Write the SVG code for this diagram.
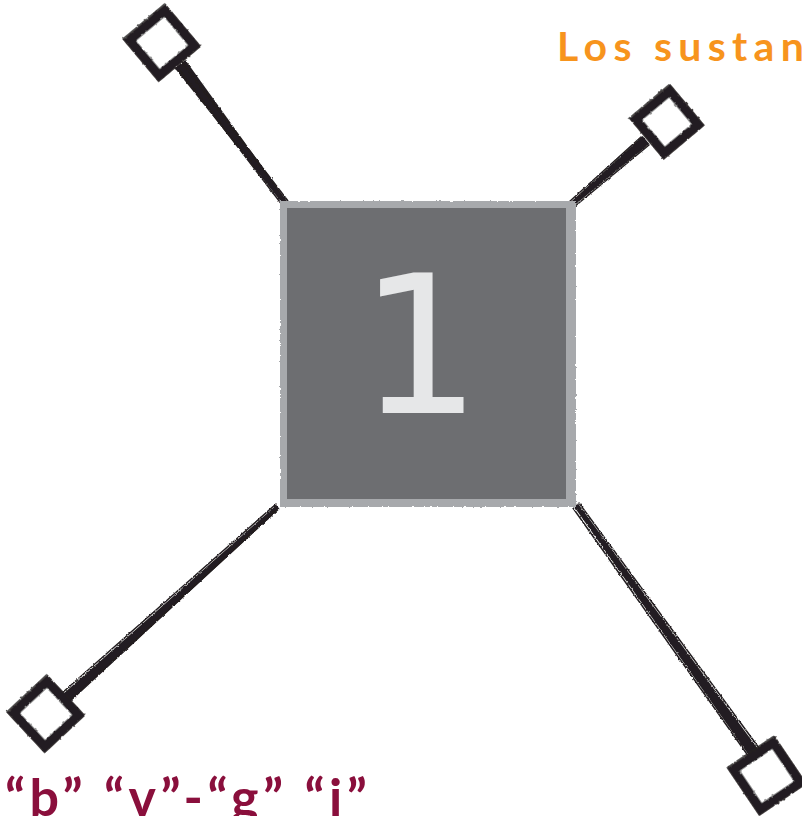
<svg xmlns="http://www.w3.org/2000/svg" width="802" height="816" viewBox="0 0 802 816">
<style>
.ink{fill:#231f20;stroke:none}
.hair{fill:none;stroke:#231f20;stroke-width:1.5;stroke-linecap:round}
.pin{fill:none;stroke:#231f20;stroke-width:9;stroke-linejoin:miter}
.pinhair{fill:none;stroke:#231f20;stroke-width:1.5}
.title{font-family:Lato,"Open Sans",sans-serif;font-weight:700;font-size:41px;fill:#f7941d;letter-spacing:6.3px}
.label{font-family:Lato,"Open Sans",sans-serif;font-weight:700;font-size:52px;fill:#8a0f3c;letter-spacing:4.5px}
.num{font-family:"DejaVu Sans",sans-serif;font-size:192px;fill:#e6e7e8}
</style>
<defs>
<filter id="rough" x="-10%" y="-10%" width="120%" height="120%">
<feTurbulence type="fractalNoise" baseFrequency="0.35" numOctaves="2" seed="3" result="n"/>
<feDisplacementMap in="SourceGraphic" in2="n" scale="2.5" xChannelSelector="R" yChannelSelector="G"/>
</filter>
</defs>
<rect width="802" height="816" fill="#ffffff"/>
<g id="connectors" filter="url(#rough)">
<polygon class="ink" points="174.6,68.0 284.0,205.5 288.0,202.5 185.4,60.0"/>
<path class="hair" d="M179,70 L283,206 M181,61 L288,201"/>
<polygon class="ink" points="642.6,136.0 569.4,203.2 572.6,206.8 649.4,144.0"/>
<path class="hair" d="M641,137 L569,202 M649,145 L574,207"/>
<polygon class="ink" points="69.3,701.7 279.6,508.9 276.4,505.1 62.7,694.3"/>
<path class="hair" d="M68,703 L277,510 M62,693 L276,504"/>
<polygon class="ink" points="758.5,749.8 578.0,503.5 574.0,506.5 749.5,756.2"/>
<path class="hair" d="M759,748 L579,503 M749,757 L573,508"/>
</g>
<g id="pin-tl" filter="url(#rough)" transform="translate(162,43) rotate(50)">
<rect class="pin" x="-23" y="-23" width="46" height="46"/>
<rect class="pinhair" x="-28" y="-27" width="55" height="54"/>
</g>
<g id="pin-tr" filter="url(#rough)" transform="translate(667,122) rotate(50)">
<rect class="pin" x="-22" y="-22" width="44" height="44"/>
<rect class="pinhair" x="-27" y="-26" width="53" height="52"/>
</g>
<g id="pin-bl" filter="url(#rough)" transform="translate(46,714) rotate(47)">
<rect class="pin" x="-23" y="-23" width="46" height="46"/>
<rect class="pinhair" x="-28" y="-27" width="55" height="54"/>
</g>
<g id="pin-br" filter="url(#rough)" transform="translate(767,776) rotate(56)">
<rect class="pin" x="-24" y="-24" width="48" height="48"/>
<rect class="pinhair" x="-29" y="-28" width="57" height="56"/>
</g>
<g id="center">
<rect x="280" y="201" width="296" height="306" fill="#a7a9ac" filter="url(#rough)"/>
<rect x="287" y="208" width="279" height="291" fill="#6d6e71"/>
<text class="num" x="420" y="413" text-anchor="middle">1</text>
</g>
<g id="title"><text class="title" x="557" y="61">Los sustan</text></g>
<g id="label"><text class="label" x="5" y="816">“b”  “v”-“g”  “j”</text></g>
</svg>
